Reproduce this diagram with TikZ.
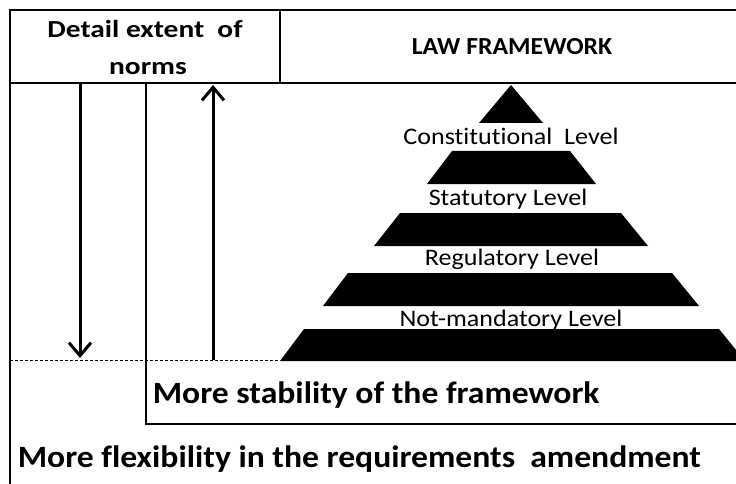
\documentclass[tikz,border=0pt]{standalone}
\usepackage{fontspec}
\setmainfont{Carlito}[Ligatures=NoCommon]
\usetikzlibrary{arrows.meta}
\begin{document}
\begin{tikzpicture}[x=1pt,y=-1pt,
  frame/.style={line width=2.5pt,line cap=rect},
  tier/.style={fill=black,draw=none},
  flow/.style={line width=3pt,-{Straight Barb[length=13pt,width=22pt]}},
  lvl/.style={font=\fontsize{23.7}{24}\selectfont,anchor=base,xscale=1.1,transform shape},
  head/.style={font=\bfseries\fontsize{24.5}{25}\selectfont,anchor=base,transform shape},
  big/.style={font=\bfseries\fontsize{31}{31}\selectfont,anchor=base west,xscale=1.085,transform shape}]
\useasboundingbox (0,0) rectangle (736,484);
\clip (0,0) rectangle (736,484);

% grid of the table
\coordinate (tl) at (10,10);
\coordinate (tr) at (740,10);
\coordinate (hl) at (10,83);
\coordinate (hr) at (740,83);
\coordinate (dv) at (280,10);
\coordinate (db) at (280,83);
\draw[frame] (tr) -- (tl) -- (10,490);
\draw[frame] (hl) -- (hr);
\draw[frame] (dv) -- (db);
\draw[frame] (146,83) -- (146,424) -- (740,424);
\draw[line width=0.8pt,dash pattern=on 3pt off 2pt] (10,360) -- (280,360);

% arrows for the detail extent
\coordinate (dtop) at (80,83);
\coordinate (dbot) at (80,358);
\coordinate (utop) at (213,85);
\coordinate (ubot) at (213,360);
\draw[flow] (dtop) -- (dbot);
\draw[flow] (ubot) -- (utop);

% pyramid of the law framework
\fill[tier] (511,85) -- (543,123) -- (479,123) -- cycle;
\fill[tier] (452,151) -- (570,151) -- (596,184) -- (427,184) -- cycle;
\fill[tier] (400,213) -- (621,213) -- (648,246) -- (374,246) -- cycle;
\fill[tier] (348,273) -- (672,273) -- (699,306) -- (323,306) -- cycle;
\fill[tier] (304,329) -- (719,329) -- (745,361) -- (280,361) -- cycle;

% labels
\node[head,xscale=1.2] (h1) at (145,38) {Detail extent\ \ of};
\node[head,xscale=1.2] (h2) at (148,75) {norms};
\node[head,xscale=1.05] (h3) at (512,55) {LAW FRAMEWORK};
\node[lvl] (l1) at (511,145) {Constitutional\ \ Level};
\node[lvl] (l2) at (508,205) {Statutory Level};
\node[lvl] (l3) at (512,265) {Regulatory Level};
\node[lvl] (l4) at (511,326) {Not-mandatory Level};
\node[big] (b1) at (149,403) {More stability of the framework};
\node[big] (b2) at (14,467) {More flexibility in the requirements\ \ amendment};
\end{tikzpicture}
\end{document}
